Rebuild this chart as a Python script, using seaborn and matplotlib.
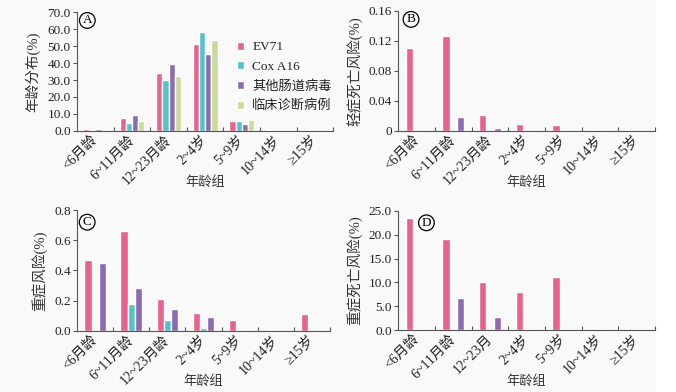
import numpy as np
import pandas as pd
import matplotlib
matplotlib.use("Agg")
import matplotlib.pyplot as plt
from matplotlib.ticker import FixedLocator, FuncFormatter
from matplotlib.patches import Rectangle
import seaborn as sns

sns.set_theme(style="white")
plt.rcParams['font.family'] = ['Liberation Serif', 'Noto Sans CJK SC', 'DejaVu Sans']

# ---------------- data ----------------
categories = ['<6月龄', '6~11月龄', '12~23月龄', '2~4岁', '5~9岁', '10~14岁', '≥15岁']
categories_d = ['<6月龄', '6~11月龄', '12~23月', '2~4岁', '5~9岁', '10~14岁', '≥15岁']
series_names = ['EV71', 'Cox A16', '其他肠道病毒', '临床诊断病例']

# Panel A: age distribution (%)
a_ev71 = [1.0, 7.6, 34.0, 51.2, 6.1, 0.3, 0.1]
a_cox = [0.5, 4.7, 30.3, 58.3, 5.7, 0.2, 0.05]
a_other = [1.3, 9.2, 39.7, 45.6, 3.9, 0.3, 0.1]
a_clin = [0.8, 6.1, 32.5, 53.6, 6.5, 0.3, 0.1]

# Panel B: mild case death risk (%)
b_ev71 = [0.111, 0.127, 0.021, 0.009, 0.008, 0, 0]
b_cox = [0, 0, 0, 0, 0, 0, 0]
b_other = [0, 0.019, 0.004, 0, 0, 0, 0]

# Panel C: severe risk (%)
c_ev71 = [0.469, 0.663, 0.210, 0.119, 0.071, 0, 0.113]
c_cox = [0, 0.181, 0.071, 0.018, 0, 0, 0]
c_other = [0.451, 0.283, 0.146, 0.093, 0, 0, 0]

# Panel D: severe case death risk (%)
d_ev71 = [23.6, 19.0, 10.1, 8.0, 11.2, 0, 0]
d_cox = [0, 0, 0, 0, 0, 0, 0]
d_other = [0, 6.7, 2.7, 0, 0, 0, 0]

palette = {'EV71': '#E8628B', 'Cox A16': '#52C4C9',
           '其他肠道病毒': '#8D6BB2', '临床诊断病例': '#C8DB98'}


def long_df(cats, series):
    rows = []
    for name, vals in series:
        for c, v in zip(cats, vals):
            rows.append({'age': c, 'series': name, 'value': v})
    return pd.DataFrame(rows)


fig = plt.figure(figsize=(6.76, 3.92), dpi=100)
fig.patch.set_facecolor('white')
fig.patches.append(Rectangle((0, 0), 0.970, 1.0, transform=fig.transFigure,
                             facecolor='#f9f9f9', edgecolor='none', zorder=-10))

axA = fig.add_axes([0.114, 0.666, 0.379, 0.303])
axB = fig.add_axes([0.589, 0.666, 0.380, 0.306])
axC = fig.add_axes([0.114, 0.156, 0.374, 0.308])
axD = fig.add_axes([0.589, 0.158, 0.380, 0.304])

spine_col = '#555555'


def style(ax, cats, ylim, yticks, fmt, ylabel, letter, letter_xy, xlab_y, ylab_x):
    ax.set_facecolor('none')
    ax.set_xlim(-0.5, 6.5)
    ax.set_ylim(*ylim)
    ax.set_yticks(yticks)
    ax.yaxis.set_major_formatter(FuncFormatter(fmt))
    for s in ['top', 'right']:
        ax.spines[s].set_visible(False)
    for s in ['left', 'bottom']:
        ax.spines[s].set_color(spine_col)
        ax.spines[s].set_linewidth(0.8)
    ax.tick_params(axis='y', direction='out', length=3, width=0.8, color=spine_col,
                   labelsize=9.5, pad=1.5, labelcolor='#222222', left=True)
    ax.set_xticks(range(len(cats)))
    ax.set_xticklabels(cats, rotation=45, ha='right', va='center',
                       rotation_mode='anchor')
    ax.tick_params(axis='x', which='major', length=0, labelsize=10, pad=5,
                   labelcolor='#222222')
    ax.xaxis.set_minor_locator(FixedLocator(np.arange(0.5, 7.0, 1.0)))
    ax.tick_params(axis='x', which='minor', direction='in', length=3, width=0.8,
                   color=spine_col, bottom=True)
    ax.set_xlabel('年龄组', fontsize=9.5, color='#333333')
    ax.xaxis.set_label_coords(0.5, xlab_y)
    ax.set_ylabel(ylabel, fontsize=10.5, color='#333333')
    ax.yaxis.set_label_coords(ylab_x, 0.5)
    ax.text(letter_xy[0], letter_xy[1], letter, transform=ax.transAxes,
            fontsize=9.5, ha='center', va='center', color='black',
            bbox=dict(boxstyle='circle,pad=0.14', facecolor='none',
                      edgecolor='black', linewidth=0.9))


# Panel A
dfA = long_df(categories, [('EV71', a_ev71), ('Cox A16', a_cox),
                           ('其他肠道病毒', a_other), ('临床诊断病例', a_clin)])
sns.barplot(data=dfA, x='age', y='value', hue='series', hue_order=series_names,
            palette=palette, width=0.68, ax=axA, saturation=1, errorbar=None)
style(axA, categories, (0, 70), np.arange(0, 71, 10),
      lambda v, p: f'{v:.1f}', '年龄分布(%)', 'A', (0.04, 0.93), -0.378, -0.145)
leg = axA.legend(loc='upper left', bbox_to_anchor=(0.625, 0.755), frameon=False,
                 fontsize=9.5, handlelength=0.55, handleheight=0.55,
                 handletextpad=0.6, labelspacing=0.55, borderpad=0, borderaxespad=0)
for t in leg.get_texts():
    t.set_color('#222222')

# Panel B
three = series_names[:3]
dfB = long_df(categories, [('EV71', b_ev71), ('Cox A16', b_cox), ('其他肠道病毒', b_other)])
sns.barplot(data=dfB, x='age', y='value', hue='series', hue_order=three,
            palette=palette, width=0.6, ax=axB, saturation=1, errorbar=None, legend=False)
style(axB, categories, (0, 0.16), [0, 0.04, 0.08, 0.12, 0.16],
      lambda v, p: '0' if v == 0 else f'{v:.2f}', '轻症死亡风险(%)', 'B', (0.05, 0.93),
      -0.378, -0.14)

# Panel C
dfC = long_df(categories, [('EV71', c_ev71), ('Cox A16', c_cox), ('其他肠道病毒', c_other)])
sns.barplot(data=dfC, x='age', y='value', hue='series', hue_order=three,
            palette=palette, width=0.6, ax=axC, saturation=1, errorbar=None, legend=False)
style(axC, categories, (0, 0.8), [0, 0.2, 0.4, 0.6, 0.8],
      lambda v, p: f'{v:.1f}', '重症风险(%)', 'C', (0.04, 0.9), -0.364, -0.119)

# Panel D
dfD = long_df(categories_d, [('EV71', d_ev71), ('Cox A16', d_cox), ('其他肠道病毒', d_other)])
sns.barplot(data=dfD, x='age', y='value', hue='series', hue_order=three,
            palette=palette, width=0.6, ax=axD, saturation=1, errorbar=None, legend=False)
style(axD, categories_d, (0, 25), np.arange(0, 26, 5),
      lambda v, p: f'{v:.1f}', '重症死亡风险(%)', 'D', (0.11, 0.9), -0.378, -0.14)

fig.savefig('out.png', dpi=100)
